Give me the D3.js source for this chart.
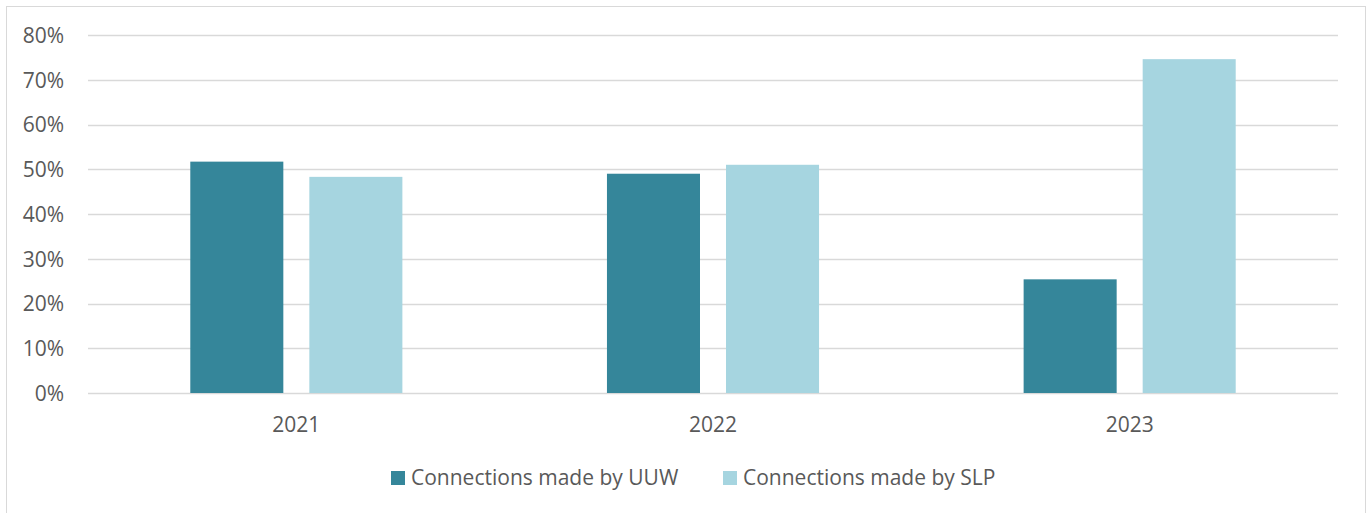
<!DOCTYPE html>
<html><head><meta charset="utf-8">
<script src="https://cdn.jsdelivr.net/npm/d3@7"></script>
<style>body{margin:0;background:#fff}svg{display:block}text{font-family:"Open Sans",sans-serif;fill:#595959}</style>
</head><body>
<svg id="c" width="1370" height="513"></svg>
<script>
const categories = ["2021","2022","2023"];
const seriesNames = ["Connections made by UUW","Connections made by SLP"];
const uuw = [0.517, 0.490, 0.254];
const slp = [0.483, 0.510, 0.746];
const yTicks = [0,0.1,0.2,0.3,0.4,0.5,0.6,0.7,0.8];
const colors = ["#35869A","#A6D5E0"];

const svg = d3.select("#c");
svg.append("rect").attr("x",6.5).attr("y",6.5).attr("width",1359).attr("height",520)
  .attr("fill","#fff").attr("stroke","#D9D9D9").attr("stroke-width",1);

const pLeft=88, pRight=1338, pTop=35, pBottom=393;
const y = d3.scaleLinear().domain([0,0.8]).range([pBottom,pTop]);
const x0 = d3.scaleBand().domain(categories).range([pLeft,pRight]).paddingInner(0.491).paddingOuter(0.2455);
const x1 = d3.scaleBand().domain([0,1]).range([0,x0.bandwidth()]).paddingInner(0.2185).paddingOuter(0);

const g = svg.append("g");
g.selectAll("line.grid").data(yTicks).join("line")
  .attr("x1",pLeft).attr("x2",pRight).attr("y1",d=>Math.round(y(d))+0.5).attr("y2",d=>Math.round(y(d))+0.5)
  .attr("stroke","#D9D9D9").attr("stroke-width",1.5);

const yAxis = d3.axisLeft(y).tickValues(yTicks).tickFormat(d3.format(".0%")).tickSize(0).tickPadding(0);
const ya = svg.append("g").attr("transform",`translate(64,0)`).call(yAxis);
ya.select(".domain").remove();
ya.selectAll("text").attr("font-size",21).style("font-family","'Open Sans',sans-serif").attr("fill","#595959").attr("dy","0.35em");

const data = categories.map((c,i)=>({c, vals:[uuw[i], slp[i]]}));
const grp = g.selectAll("g.cat").data(data).join("g").attr("transform",d=>`translate(${x0(d.c)},0)`);
grp.selectAll("rect").data(d=>d.vals.map((v,k)=>({v,k}))).join("rect")
  .attr("x",d=>x1(d.k)).attr("width",x1.bandwidth())
  .attr("y",d=>y(d.v)).attr("height",d=>y(0)-y(d.v))
  .attr("fill",d=>colors[d.k]);

const xAxis = d3.axisBottom(x0).tickSize(0).tickPadding(0);
const xa = svg.append("g").attr("transform",`translate(0,425)`).call(xAxis);
xa.select(".domain").remove();
xa.selectAll("text").attr("font-size",21).style("font-family","'Open Sans',sans-serif").attr("fill","#595959").attr("dy","0.35em");

// legend
const legend = svg.append("g");
const lx = [391, 723];
seriesNames.forEach((n,i)=>{
  legend.append("rect").attr("x",lx[i]).attr("y",471).attr("width",14).attr("height",14).attr("fill",colors[i]);
  legend.append("text").attr("x",lx[i]+20).attr("y",478).attr("dy","0.35em").attr("font-size",21).text(n);
});
</script>
</body></html>
